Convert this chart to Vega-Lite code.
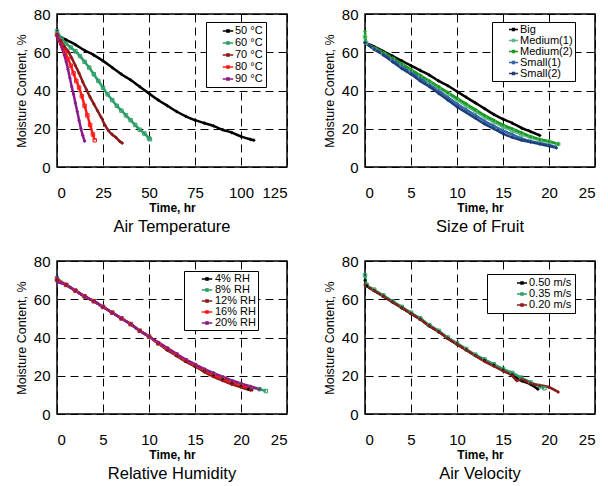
{
  "$schema": "https://vega.github.io/schema/vega-lite/v6.json",
  "padding": {"left": 14, "top": 6, "right": 0, "bottom": 0},
  "background": "#ffffff",
  "resolve": {"scale": {"color": "independent"}, "legend": {"color": "independent"}},
  "config": {
    "font": "Liberation Sans",
    "view": {"stroke": "#000000", "strokeWidth": 1.5},
    "axis": {"labelFont": "Liberation Sans", "labelFontSize": 15, "labelColor": "#000000", "titleFont": "Liberation Sans", "titleColor": "#000000", "ticks": false, "domain": false, "gridColor": "#000000", "gridDash": [8, 5], "gridWidth": 1, "gridOpacity": 1},
    "axisX": {"labelPadding": 18, "titleFontSize": 12, "titleFontWeight": "bold", "titlePadding": 2},
    "axisY": {"labelPadding": 7, "titleFontSize": 12.5, "titleFontWeight": "normal", "titlePadding": 5},
    "legend": {"orient": "none", "strokeColor": "#000000", "fillColor": "#ffffff", "padding": 3, "labelFont": "Liberation Sans", "labelFontSize": 11, "labelColor": "#000000", "symbolType": "M-1,0L1,0M-0.22,-0.22L0.22,-0.22L0.22,0.22L-0.22,0.22Z", "symbolSize": 110, "rowPadding": 1, "labelOffset": 1, "symbolStrokeWidth": 1.3},
    "title": {"orient": "bottom", "fontSize": 16.5, "fontWeight": "normal", "offset": 6, "color": "#000000", "anchor": "middle", "font": "Liberation Sans"}
  },
  "datasets": {
    "temp": [
      {"series": "50 °C", "time": 0, "mc": 69}, {"series": "50 °C", "time": 5, "mc": 66.5}, {"series": "50 °C", "time": 10, "mc": 64}, {"series": "50 °C", "time": 15, "mc": 61}, {"series": "50 °C", "time": 20, "mc": 58.5}, {"series": "50 °C", "time": 25, "mc": 55.5}, {"series": "50 °C", "time": 30, "mc": 52}, {"series": "50 °C", "time": 35, "mc": 48.5}, {"series": "50 °C", "time": 40, "mc": 45.5}, {"series": "50 °C", "time": 45, "mc": 42}, {"series": "50 °C", "time": 50, "mc": 38.5}, {"series": "50 °C", "time": 55, "mc": 35}, {"series": "50 °C", "time": 60, "mc": 32}, {"series": "50 °C", "time": 65, "mc": 29}, {"series": "50 °C", "time": 70, "mc": 26.5}, {"series": "50 °C", "time": 75, "mc": 24.5}, {"series": "50 °C", "time": 80, "mc": 23}, {"series": "50 °C", "time": 85, "mc": 21.5}, {"series": "50 °C", "time": 90, "mc": 19.5}, {"series": "50 °C", "time": 95, "mc": 18}, {"series": "50 °C", "time": 100, "mc": 16}, {"series": "50 °C", "time": 105, "mc": 14.5}, {"series": "50 °C", "time": 107, "mc": 14},
      {"series": "60 °C", "time": 0, "mc": 71}, {"series": "60 °C", "time": 2.5, "mc": 67}, {"series": "60 °C", "time": 5, "mc": 64.5}, {"series": "60 °C", "time": 7.5, "mc": 62.5}, {"series": "60 °C", "time": 10, "mc": 60.5}, {"series": "60 °C", "time": 12.5, "mc": 58}, {"series": "60 °C", "time": 15, "mc": 55}, {"series": "60 °C", "time": 17.5, "mc": 52}, {"series": "60 °C", "time": 20, "mc": 48.5}, {"series": "60 °C", "time": 22.5, "mc": 45}, {"series": "60 °C", "time": 25, "mc": 41.5}, {"series": "60 °C", "time": 27.5, "mc": 38}, {"series": "60 °C", "time": 30, "mc": 35}, {"series": "60 °C", "time": 32.5, "mc": 32}, {"series": "60 °C", "time": 35, "mc": 29.5}, {"series": "60 °C", "time": 37.5, "mc": 27}, {"series": "60 °C", "time": 40, "mc": 24.5}, {"series": "60 °C", "time": 42.5, "mc": 22}, {"series": "60 °C", "time": 45, "mc": 19.5}, {"series": "60 °C", "time": 47.5, "mc": 17.5}, {"series": "60 °C", "time": 50, "mc": 15}, {"series": "60 °C", "time": 50.5, "mc": 14.5},
      {"series": "70 °C", "time": 0, "mc": 69}, {"series": "70 °C", "time": 2, "mc": 66}, {"series": "70 °C", "time": 4, "mc": 63}, {"series": "70 °C", "time": 6, "mc": 60.5}, {"series": "70 °C", "time": 8, "mc": 57}, {"series": "70 °C", "time": 10, "mc": 53}, {"series": "70 °C", "time": 12, "mc": 49}, {"series": "70 °C", "time": 14, "mc": 44.5}, {"series": "70 °C", "time": 16, "mc": 40.5}, {"series": "70 °C", "time": 18, "mc": 36.5}, {"series": "70 °C", "time": 20, "mc": 33}, {"series": "70 °C", "time": 22, "mc": 29.5}, {"series": "70 °C", "time": 24, "mc": 26}, {"series": "70 °C", "time": 26, "mc": 22}, {"series": "70 °C", "time": 28, "mc": 19}, {"series": "70 °C", "time": 30, "mc": 17}, {"series": "70 °C", "time": 32, "mc": 15.5}, {"series": "70 °C", "time": 34, "mc": 13.5}, {"series": "70 °C", "time": 35.5, "mc": 12.5},
      {"series": "80 °C", "time": 0, "mc": 69}, {"series": "80 °C", "time": 1.5, "mc": 66}, {"series": "80 °C", "time": 3, "mc": 63}, {"series": "80 °C", "time": 4.5, "mc": 60}, {"series": "80 °C", "time": 6, "mc": 56.5}, {"series": "80 °C", "time": 7.5, "mc": 53}, {"series": "80 °C", "time": 9, "mc": 49}, {"series": "80 °C", "time": 10.5, "mc": 45}, {"series": "80 °C", "time": 12, "mc": 41.5}, {"series": "80 °C", "time": 13.5, "mc": 37}, {"series": "80 °C", "time": 15, "mc": 32}, {"series": "80 °C", "time": 16.5, "mc": 27}, {"series": "80 °C", "time": 18, "mc": 22}, {"series": "80 °C", "time": 19.5, "mc": 17}, {"series": "80 °C", "time": 20.5, "mc": 14},
      {"series": "90 °C", "time": 0, "mc": 69}, {"series": "90 °C", "time": 1, "mc": 66.5}, {"series": "90 °C", "time": 2, "mc": 64}, {"series": "90 °C", "time": 3, "mc": 61.5}, {"series": "90 °C", "time": 4, "mc": 58.5}, {"series": "90 °C", "time": 5, "mc": 55}, {"series": "90 °C", "time": 6, "mc": 51}, {"series": "90 °C", "time": 7, "mc": 46.5}, {"series": "90 °C", "time": 8, "mc": 42}, {"series": "90 °C", "time": 9, "mc": 38}, {"series": "90 °C", "time": 10, "mc": 33.5}, {"series": "90 °C", "time": 11, "mc": 29}, {"series": "90 °C", "time": 12, "mc": 24.5}, {"series": "90 °C", "time": 13, "mc": 20}, {"series": "90 °C", "time": 14, "mc": 16.5}, {"series": "90 °C", "time": 15, "mc": 13.5}
    ],
    "size": [
      {"series": "Big", "time": 0, "mc": 65}, {"series": "Big", "time": 1, "mc": 63}, {"series": "Big", "time": 2, "mc": 60.5}, {"series": "Big", "time": 3, "mc": 58}, {"series": "Big", "time": 4, "mc": 55.5}, {"series": "Big", "time": 5, "mc": 53}, {"series": "Big", "time": 6, "mc": 50.5}, {"series": "Big", "time": 7, "mc": 48}, {"series": "Big", "time": 8, "mc": 45}, {"series": "Big", "time": 9, "mc": 42.5}, {"series": "Big", "time": 10, "mc": 39.5}, {"series": "Big", "time": 11, "mc": 36.5}, {"series": "Big", "time": 12, "mc": 33.5}, {"series": "Big", "time": 13, "mc": 30.5}, {"series": "Big", "time": 14, "mc": 27.5}, {"series": "Big", "time": 15, "mc": 25}, {"series": "Big", "time": 16, "mc": 23}, {"series": "Big", "time": 17, "mc": 20.5}, {"series": "Big", "time": 18, "mc": 18.5}, {"series": "Big", "time": 19, "mc": 16.5},
      {"series": "Medium(1)", "time": 0, "mc": 68}, {"series": "Medium(1)", "time": 0.1, "mc": 65}, {"series": "Medium(1)", "time": 1, "mc": 62}, {"series": "Medium(1)", "time": 2, "mc": 59.5}, {"series": "Medium(1)", "time": 3, "mc": 56.5}, {"series": "Medium(1)", "time": 4, "mc": 53.5}, {"series": "Medium(1)", "time": 5, "mc": 50.5}, {"series": "Medium(1)", "time": 6, "mc": 47.5}, {"series": "Medium(1)", "time": 7, "mc": 44.5}, {"series": "Medium(1)", "time": 8, "mc": 41.5}, {"series": "Medium(1)", "time": 9, "mc": 38.5}, {"series": "Medium(1)", "time": 10, "mc": 35}, {"series": "Medium(1)", "time": 11, "mc": 32}, {"series": "Medium(1)", "time": 12, "mc": 29}, {"series": "Medium(1)", "time": 13, "mc": 26}, {"series": "Medium(1)", "time": 14, "mc": 23.5}, {"series": "Medium(1)", "time": 15, "mc": 21}, {"series": "Medium(1)", "time": 16, "mc": 19}, {"series": "Medium(1)", "time": 17, "mc": 17}, {"series": "Medium(1)", "time": 18, "mc": 15.5}, {"series": "Medium(1)", "time": 19, "mc": 14}, {"series": "Medium(1)", "time": 20, "mc": 13}, {"series": "Medium(1)", "time": 21, "mc": 12},
      {"series": "Medium(2)", "time": 0, "mc": 71}, {"series": "Medium(2)", "time": 0.1, "mc": 65}, {"series": "Medium(2)", "time": 1, "mc": 62.5}, {"series": "Medium(2)", "time": 2, "mc": 60}, {"series": "Medium(2)", "time": 3, "mc": 57}, {"series": "Medium(2)", "time": 4, "mc": 54}, {"series": "Medium(2)", "time": 5, "mc": 51}, {"series": "Medium(2)", "time": 6, "mc": 48}, {"series": "Medium(2)", "time": 7, "mc": 45}, {"series": "Medium(2)", "time": 8, "mc": 42}, {"series": "Medium(2)", "time": 9, "mc": 39}, {"series": "Medium(2)", "time": 10, "mc": 36}, {"series": "Medium(2)", "time": 11, "mc": 33}, {"series": "Medium(2)", "time": 12, "mc": 30}, {"series": "Medium(2)", "time": 13, "mc": 27}, {"series": "Medium(2)", "time": 14, "mc": 24.5}, {"series": "Medium(2)", "time": 15, "mc": 22}, {"series": "Medium(2)", "time": 16, "mc": 20}, {"series": "Medium(2)", "time": 17, "mc": 18}, {"series": "Medium(2)", "time": 18, "mc": 16}, {"series": "Medium(2)", "time": 19, "mc": 14.5}, {"series": "Medium(2)", "time": 20, "mc": 13.5}, {"series": "Medium(2)", "time": 21, "mc": 12},
      {"series": "Small(1)", "time": 0, "mc": 65}, {"series": "Small(1)", "time": 1, "mc": 62}, {"series": "Small(1)", "time": 2, "mc": 59}, {"series": "Small(1)", "time": 3, "mc": 56}, {"series": "Small(1)", "time": 4, "mc": 52.5}, {"series": "Small(1)", "time": 5, "mc": 49.5}, {"series": "Small(1)", "time": 6, "mc": 46.5}, {"series": "Small(1)", "time": 7, "mc": 43}, {"series": "Small(1)", "time": 8, "mc": 40}, {"series": "Small(1)", "time": 9, "mc": 36.5}, {"series": "Small(1)", "time": 10, "mc": 33}, {"series": "Small(1)", "time": 11, "mc": 30}, {"series": "Small(1)", "time": 12, "mc": 27}, {"series": "Small(1)", "time": 13, "mc": 24}, {"series": "Small(1)", "time": 14, "mc": 21.5}, {"series": "Small(1)", "time": 15, "mc": 19}, {"series": "Small(1)", "time": 16, "mc": 17}, {"series": "Small(1)", "time": 17, "mc": 15}, {"series": "Small(1)", "time": 18, "mc": 13.5}, {"series": "Small(1)", "time": 19, "mc": 12.5}, {"series": "Small(1)", "time": 20, "mc": 11.5}, {"series": "Small(1)", "time": 20.7, "mc": 10.5},
      {"series": "Small(2)", "time": 0, "mc": 65}, {"series": "Small(2)", "time": 1, "mc": 61.5}, {"series": "Small(2)", "time": 2, "mc": 58.5}, {"series": "Small(2)", "time": 3, "mc": 55}, {"series": "Small(2)", "time": 4, "mc": 51.5}, {"series": "Small(2)", "time": 5, "mc": 48.5}, {"series": "Small(2)", "time": 6, "mc": 45}, {"series": "Small(2)", "time": 7, "mc": 42}, {"series": "Small(2)", "time": 8, "mc": 38.5}, {"series": "Small(2)", "time": 9, "mc": 35}, {"series": "Small(2)", "time": 10, "mc": 31.5}, {"series": "Small(2)", "time": 11, "mc": 28.5}, {"series": "Small(2)", "time": 12, "mc": 25.5}, {"series": "Small(2)", "time": 13, "mc": 22.5}, {"series": "Small(2)", "time": 14, "mc": 20}, {"series": "Small(2)", "time": 15, "mc": 17.5}, {"series": "Small(2)", "time": 16, "mc": 15.5}, {"series": "Small(2)", "time": 17, "mc": 14}, {"series": "Small(2)", "time": 18, "mc": 13}, {"series": "Small(2)", "time": 19, "mc": 12}, {"series": "Small(2)", "time": 20, "mc": 11}, {"series": "Small(2)", "time": 20.8, "mc": 10}
    ],
    "rh": [
      {"series": "4% RH", "time": 0, "mc": 70}, {"series": "4% RH", "time": 1, "mc": 67.5}, {"series": "4% RH", "time": 2, "mc": 64.5}, {"series": "4% RH", "time": 3, "mc": 61.5}, {"series": "4% RH", "time": 4, "mc": 59}, {"series": "4% RH", "time": 5, "mc": 56}, {"series": "4% RH", "time": 6, "mc": 53}, {"series": "4% RH", "time": 7, "mc": 50}, {"series": "4% RH", "time": 8, "mc": 47}, {"series": "4% RH", "time": 9, "mc": 43.5}, {"series": "4% RH", "time": 10, "mc": 40.5}, {"series": "4% RH", "time": 11, "mc": 37}, {"series": "4% RH", "time": 12, "mc": 33.5}, {"series": "4% RH", "time": 13, "mc": 30.5}, {"series": "4% RH", "time": 14, "mc": 27.5}, {"series": "4% RH", "time": 15, "mc": 25}, {"series": "4% RH", "time": 16, "mc": 22.5}, {"series": "4% RH", "time": 17, "mc": 20}, {"series": "4% RH", "time": 18, "mc": 18}, {"series": "4% RH", "time": 19, "mc": 16}, {"series": "4% RH", "time": 20, "mc": 14.5}, {"series": "4% RH", "time": 20.8, "mc": 13},
      {"series": "8% RH", "time": 0, "mc": 71}, {"series": "8% RH", "time": 1, "mc": 67.5}, {"series": "8% RH", "time": 2, "mc": 64.5}, {"series": "8% RH", "time": 3, "mc": 61.5}, {"series": "8% RH", "time": 4, "mc": 59}, {"series": "8% RH", "time": 5, "mc": 56}, {"series": "8% RH", "time": 6, "mc": 53}, {"series": "8% RH", "time": 7, "mc": 50}, {"series": "8% RH", "time": 8, "mc": 47}, {"series": "8% RH", "time": 9, "mc": 43.5}, {"series": "8% RH", "time": 10, "mc": 40.5}, {"series": "8% RH", "time": 11, "mc": 37}, {"series": "8% RH", "time": 12, "mc": 34}, {"series": "8% RH", "time": 13, "mc": 31}, {"series": "8% RH", "time": 14, "mc": 28}, {"series": "8% RH", "time": 15, "mc": 25.5}, {"series": "8% RH", "time": 16, "mc": 23}, {"series": "8% RH", "time": 17, "mc": 21}, {"series": "8% RH", "time": 18, "mc": 19}, {"series": "8% RH", "time": 19, "mc": 17}, {"series": "8% RH", "time": 20, "mc": 15.5}, {"series": "8% RH", "time": 21, "mc": 14}, {"series": "8% RH", "time": 22, "mc": 13}, {"series": "8% RH", "time": 22.7, "mc": 12},
      {"series": "12% RH", "time": 0, "mc": 70}, {"series": "12% RH", "time": 1, "mc": 67.5}, {"series": "12% RH", "time": 2, "mc": 64.5}, {"series": "12% RH", "time": 3, "mc": 61.5}, {"series": "12% RH", "time": 4, "mc": 59}, {"series": "12% RH", "time": 5, "mc": 56}, {"series": "12% RH", "time": 6, "mc": 53}, {"series": "12% RH", "time": 7, "mc": 50}, {"series": "12% RH", "time": 8, "mc": 47}, {"series": "12% RH", "time": 9, "mc": 43.5}, {"series": "12% RH", "time": 10, "mc": 40.5}, {"series": "12% RH", "time": 11, "mc": 37}, {"series": "12% RH", "time": 12, "mc": 33.5}, {"series": "12% RH", "time": 13, "mc": 30.5}, {"series": "12% RH", "time": 14, "mc": 27.5}, {"series": "12% RH", "time": 15, "mc": 25}, {"series": "12% RH", "time": 16, "mc": 22}, {"series": "12% RH", "time": 17, "mc": 19.5}, {"series": "12% RH", "time": 18, "mc": 17.5}, {"series": "12% RH", "time": 19, "mc": 15.5}, {"series": "12% RH", "time": 20, "mc": 14}, {"series": "12% RH", "time": 21, "mc": 12.5}, {"series": "12% RH", "time": 21.2, "mc": 12.5},
      {"series": "16% RH", "time": 0, "mc": 70}, {"series": "16% RH", "time": 1, "mc": 67.5}, {"series": "16% RH", "time": 2, "mc": 64.5}, {"series": "16% RH", "time": 3, "mc": 61.5}, {"series": "16% RH", "time": 4, "mc": 59}, {"series": "16% RH", "time": 5, "mc": 56}, {"series": "16% RH", "time": 6, "mc": 53}, {"series": "16% RH", "time": 7, "mc": 50}, {"series": "16% RH", "time": 8, "mc": 47}, {"series": "16% RH", "time": 9, "mc": 43.5}, {"series": "16% RH", "time": 10, "mc": 40.5}, {"series": "16% RH", "time": 11, "mc": 37}, {"series": "16% RH", "time": 12, "mc": 34}, {"series": "16% RH", "time": 13, "mc": 31}, {"series": "16% RH", "time": 14, "mc": 28}, {"series": "16% RH", "time": 15, "mc": 25.5}, {"series": "16% RH", "time": 16, "mc": 23}, {"series": "16% RH", "time": 17, "mc": 20.5}, {"series": "16% RH", "time": 18, "mc": 18.5}, {"series": "16% RH", "time": 19, "mc": 16.5}, {"series": "16% RH", "time": 20, "mc": 15}, {"series": "16% RH", "time": 21, "mc": 13.5},
      {"series": "20% RH", "time": 0, "mc": 71.5}, {"series": "20% RH", "time": 0.1, "mc": 69}, {"series": "20% RH", "time": 1, "mc": 67.5}, {"series": "20% RH", "time": 2, "mc": 64.5}, {"series": "20% RH", "time": 3, "mc": 61.5}, {"series": "20% RH", "time": 4, "mc": 59}, {"series": "20% RH", "time": 5, "mc": 56}, {"series": "20% RH", "time": 6, "mc": 53}, {"series": "20% RH", "time": 7, "mc": 50}, {"series": "20% RH", "time": 8, "mc": 47}, {"series": "20% RH", "time": 9, "mc": 43.5}, {"series": "20% RH", "time": 10, "mc": 40.5}, {"series": "20% RH", "time": 11, "mc": 37.5}, {"series": "20% RH", "time": 12, "mc": 34.5}, {"series": "20% RH", "time": 13, "mc": 31.5}, {"series": "20% RH", "time": 14, "mc": 28.5}, {"series": "20% RH", "time": 15, "mc": 26}, {"series": "20% RH", "time": 16, "mc": 23.5}, {"series": "20% RH", "time": 17, "mc": 21.5}, {"series": "20% RH", "time": 18, "mc": 19.5}, {"series": "20% RH", "time": 19, "mc": 17.5}, {"series": "20% RH", "time": 20, "mc": 16}, {"series": "20% RH", "time": 21, "mc": 14.5}, {"series": "20% RH", "time": 22, "mc": 13}
    ],
    "vel": [
      {"series": "0.50 m/s", "time": 0, "mc": 70}, {"series": "0.50 m/s", "time": 0.2, "mc": 67}, {"series": "0.50 m/s", "time": 1, "mc": 64.5}, {"series": "0.50 m/s", "time": 2, "mc": 61.5}, {"series": "0.50 m/s", "time": 3, "mc": 58.5}, {"series": "0.50 m/s", "time": 4, "mc": 55.5}, {"series": "0.50 m/s", "time": 5, "mc": 52.5}, {"series": "0.50 m/s", "time": 6, "mc": 49.5}, {"series": "0.50 m/s", "time": 7, "mc": 46}, {"series": "0.50 m/s", "time": 8, "mc": 43}, {"series": "0.50 m/s", "time": 9, "mc": 39.5}, {"series": "0.50 m/s", "time": 10, "mc": 36.5}, {"series": "0.50 m/s", "time": 11, "mc": 33.5}, {"series": "0.50 m/s", "time": 12, "mc": 30.5}, {"series": "0.50 m/s", "time": 13, "mc": 28}, {"series": "0.50 m/s", "time": 14, "mc": 25.5}, {"series": "0.50 m/s", "time": 15, "mc": 23}, {"series": "0.50 m/s", "time": 16, "mc": 20.5}, {"series": "0.50 m/s", "time": 17, "mc": 17.5}, {"series": "0.50 m/s", "time": 18, "mc": 15.5}, {"series": "0.50 m/s", "time": 18.8, "mc": 13},
      {"series": "0.35 m/s", "time": 0, "mc": 72.5}, {"series": "0.35 m/s", "time": 0.2, "mc": 67.5}, {"series": "0.35 m/s", "time": 1, "mc": 65}, {"series": "0.35 m/s", "time": 2, "mc": 62}, {"series": "0.35 m/s", "time": 3, "mc": 59}, {"series": "0.35 m/s", "time": 4, "mc": 56}, {"series": "0.35 m/s", "time": 5, "mc": 53}, {"series": "0.35 m/s", "time": 6, "mc": 50}, {"series": "0.35 m/s", "time": 7, "mc": 46.5}, {"series": "0.35 m/s", "time": 8, "mc": 43.5}, {"series": "0.35 m/s", "time": 9, "mc": 40}, {"series": "0.35 m/s", "time": 10, "mc": 37}, {"series": "0.35 m/s", "time": 11, "mc": 34}, {"series": "0.35 m/s", "time": 12, "mc": 31}, {"series": "0.35 m/s", "time": 13, "mc": 28.5}, {"series": "0.35 m/s", "time": 14, "mc": 26}, {"series": "0.35 m/s", "time": 15, "mc": 23.5}, {"series": "0.35 m/s", "time": 16, "mc": 21.5}, {"series": "0.35 m/s", "time": 17, "mc": 19}, {"series": "0.35 m/s", "time": 18, "mc": 16.5}, {"series": "0.35 m/s", "time": 19, "mc": 14.5}, {"series": "0.35 m/s", "time": 19.5, "mc": 13.5},
      {"series": "0.20 m/s", "time": 0, "mc": 67.5}, {"series": "0.20 m/s", "time": 1, "mc": 64.5}, {"series": "0.20 m/s", "time": 2, "mc": 61.5}, {"series": "0.20 m/s", "time": 3, "mc": 58.5}, {"series": "0.20 m/s", "time": 4, "mc": 55.5}, {"series": "0.20 m/s", "time": 5, "mc": 52.5}, {"series": "0.20 m/s", "time": 6, "mc": 49.5}, {"series": "0.20 m/s", "time": 7, "mc": 46}, {"series": "0.20 m/s", "time": 8, "mc": 43}, {"series": "0.20 m/s", "time": 9, "mc": 39.5}, {"series": "0.20 m/s", "time": 10, "mc": 36.5}, {"series": "0.20 m/s", "time": 11, "mc": 33.5}, {"series": "0.20 m/s", "time": 12, "mc": 30.5}, {"series": "0.20 m/s", "time": 13, "mc": 27.5}, {"series": "0.20 m/s", "time": 14, "mc": 25}, {"series": "0.20 m/s", "time": 15, "mc": 22.5}, {"series": "0.20 m/s", "time": 16, "mc": 20}, {"series": "0.20 m/s", "time": 16.5, "mc": 17.5}, {"series": "0.20 m/s", "time": 17, "mc": 18}, {"series": "0.20 m/s", "time": 18, "mc": 16}, {"series": "0.20 m/s", "time": 19, "mc": 15}, {"series": "0.20 m/s", "time": 20, "mc": 14}, {"series": "0.20 m/s", "time": 21, "mc": 11.5}
    ]
  },
  "vconcat": [
    {
      "spacing": 34,
      "resolve": {"scale": {"color": "independent"}, "legend": {"color": "independent"}},
      "hconcat": [
        {
          "width": 230, "height": 153,
          "data": {"name": "temp"},
          "title": {"text": "Air Temperature"},
          "encoding": {
            "x": {"field": "time", "type": "quantitative", "title": "Time, hr", "scale": {"domain": [0, 125], "nice": false}, "axis": {"values": [0, 25, 50, 75, 100, 125]}},
            "y": {"field": "mc", "type": "quantitative", "title": "Moisture Content, %", "scale": {"domain": [0, 80], "nice": false}, "axis": {"values": [0, 20, 40, 60, 80]}},
            "color": {"field": "series", "type": "nominal", "scale": {"domain": ["50 °C", "60 °C", "70 °C", "80 °C", "90 °C"], "range": ["#000000", "#2e9e68", "#8b1a1a", "#ff1a1a", "#8b1a8b"]}, "legend": {"title": null, "legendX": 149, "legendY": 8, "padding": 3, "symbolOffset": 13, "symbolSize": 110, "labelOffset": 1, "rowPadding": 1}}
          },
          "layer": [
            {"mark": {"type": "line", "strokeWidth": 2.5, "interpolate": "monotone"}},
            {"transform": [{"filter": {"field": "series", "oneOf": ["60 °C", "80 °C"]}}], "mark": {"type": "point", "shape": "square", "filled": false, "size": 12, "strokeWidth": 1, "opacity": 1}},
            {"transform": [{"filter": {"not": {"field": "series", "oneOf": ["60 °C", "80 °C"]}}}], "mark": {"type": "point", "shape": "diamond", "filled": true, "size": 14, "opacity": 1}}
          ]
        },
        {
          "width": 230, "height": 153,
          "data": {"name": "size"},
          "title": {"text": "Size of Fruit"},
          "encoding": {
            "x": {"field": "time", "type": "quantitative", "title": "Time, hr", "scale": {"domain": [0, 25], "nice": false}, "axis": {"values": [0, 5, 10, 15, 20, 25]}},
            "y": {"field": "mc", "type": "quantitative", "title": "Moisture Content, %", "scale": {"domain": [0, 80], "nice": false}, "axis": {"values": [0, 20, 40, 60, 80]}},
            "color": {"field": "series", "type": "nominal", "scale": {"domain": ["Big", "Medium(1)", "Medium(2)", "Small(1)", "Small(2)"], "range": ["#000000", "#5cb886", "#1a9a1a", "#3366a8", "#1f3f7a"]}, "legend": {"title": null, "legendX": 127, "legendY": 8, "padding": 2, "symbolOffset": 14, "symbolSize": 81, "labelOffset": 1, "rowPadding": -1}}
          },
          "layer": [
            {"mark": {"type": "line", "strokeWidth": 2.5, "interpolate": "monotone"}},
            {"transform": [{"filter": {"field": "series", "oneOf": ["Medium(1)"]}}], "mark": {"type": "point", "shape": "square", "filled": false, "size": 12, "strokeWidth": 1, "opacity": 1}},
            {"transform": [{"filter": {"not": {"field": "series", "oneOf": ["Medium(1)"]}}}], "mark": {"type": "point", "shape": "diamond", "filled": true, "size": 14, "opacity": 1}}
          ]
        }
      ]
    },
    {
      "spacing": 34,
      "resolve": {"scale": {"color": "independent"}, "legend": {"color": "independent"}},
      "hconcat": [
        {
          "width": 230, "height": 153,
          "data": {"name": "rh"},
          "title": {"text": "Relative Humidity"},
          "encoding": {
            "x": {"field": "time", "type": "quantitative", "title": "Time, hr", "scale": {"domain": [0, 25], "nice": false}, "axis": {"values": [0, 5, 10, 15, 20, 25]}},
            "y": {"field": "mc", "type": "quantitative", "title": "Moisture Content, %", "scale": {"domain": [0, 80], "nice": false}, "axis": {"values": [0, 20, 40, 60, 80]}},
            "color": {"field": "series", "type": "nominal", "scale": {"domain": ["4% RH", "8% RH", "12% RH", "16% RH", "20% RH"], "range": ["#000000", "#2e9e68", "#8b1a1a", "#ff1a1a", "#8b1a8b"]}, "legend": {"title": null, "legendX": 127, "legendY": 10, "padding": 2, "symbolOffset": 15, "symbolSize": 110, "labelOffset": 2, "rowPadding": 0}}
          },
          "layer": [
            {"mark": {"type": "line", "strokeWidth": 2.5, "interpolate": "monotone"}},
            {"transform": [{"filter": {"field": "series", "oneOf": ["8% RH", "16% RH"]}}], "mark": {"type": "point", "shape": "square", "filled": false, "size": 12, "strokeWidth": 1, "opacity": 1}},
            {"transform": [{"filter": {"not": {"field": "series", "oneOf": ["8% RH", "16% RH"]}}}], "mark": {"type": "point", "shape": "diamond", "filled": true, "size": 14, "opacity": 1}}
          ]
        },
        {
          "width": 230, "height": 153,
          "data": {"name": "vel"},
          "title": {"text": "Air Velocity"},
          "encoding": {
            "x": {"field": "time", "type": "quantitative", "title": "Time, hr", "scale": {"domain": [0, 25], "nice": false}, "axis": {"values": [0, 5, 10, 15, 20, 25]}},
            "y": {"field": "mc", "type": "quantitative", "title": "Moisture Content, %", "scale": {"domain": [0, 80], "nice": false}, "axis": {"values": [0, 20, 40, 60, 80]}},
            "color": {"field": "series", "type": "nominal", "scale": {"domain": ["0.50 m/s", "0.35 m/s", "0.20 m/s"], "range": ["#000000", "#2e9e68", "#8b1a1a"]}, "legend": {"title": null, "legendX": 122, "legendY": 13, "padding": 3, "symbolOffset": 26, "symbolSize": 100, "labelOffset": 1, "rowPadding": 0}}
          },
          "layer": [
            {"mark": {"type": "line", "strokeWidth": 2.5, "interpolate": "monotone"}},
            {"transform": [{"filter": {"field": "series", "oneOf": ["0.35 m/s"]}}], "mark": {"type": "point", "shape": "square", "filled": false, "size": 12, "strokeWidth": 1, "opacity": 1}},
            {"transform": [{"filter": {"not": {"field": "series", "oneOf": ["0.35 m/s"]}}}], "mark": {"type": "point", "shape": "diamond", "filled": true, "size": 14, "opacity": 1}}
          ]
        }
      ]
    }
  ],
  "spacing": 16
}
